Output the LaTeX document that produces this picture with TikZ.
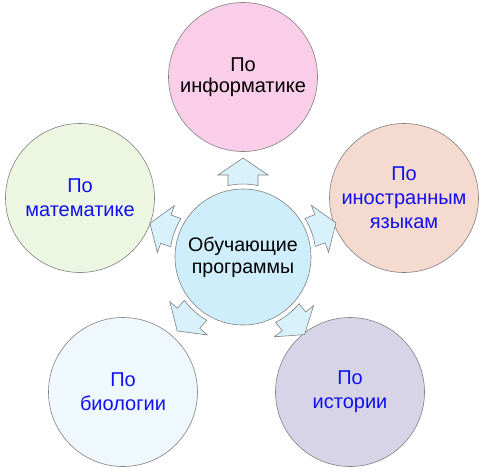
\documentclass[tikz,border=0pt]{standalone}
\usepackage{fontspec}
\setmainfont{Liberation Sans}
\usetikzlibrary{calc}

\definecolor{hubfill}{HTML}{CDEEFA}
\definecolor{pinkfill}{HTML}{FACDE8}
\definecolor{greenfill}{HTML}{EDF6E1}
\definecolor{peachfill}{HTML}{F5DACF}
\definecolor{icefill}{HTML}{EEF8FD}
\definecolor{lilacfill}{HTML}{D7D4E7}
\definecolor{arrowfill}{HTML}{D8F1FB}
\definecolor{labelblue}{HTML}{1010F0}

\begin{document}
\begin{tikzpicture}[x=1pt, y=-1pt,
        topic/.style={circle, draw=gray, line width=0.6pt, minimum size=149pt, inner sep=0pt,
            align=center, text=labelblue, font=\fontsize{20}{24}\selectfont},
        hub/.style={topic, minimum size=136pt, text=black, font=\fontsize{19.6}{22}\selectfont},
        pointer/.style={fill=arrowfill, draw=gray, line width=0.6pt, line join=miter}]
        
        \useasboundingbox (0, 0) rectangle (486, 474);
        
        % Circles
        \node[hub, fill=hubfill] (prog) at (243, 257) {Обучающие\\программы};
        \node[topic, fill=pinkfill, text=black, font=\fontsize{20}{21}\selectfont] (info) at (243, 77) {По\\информатике};
        \node[topic, fill=greenfill] (math) at (80, 198) {По\\математике};
        \node[topic, fill=peachfill] (lang) at (404, 198) {По\\иностранным\\языкам};
        \node[topic, fill=icefill] (bio) at (123, 392) {По\\биологии};
        \node[topic, fill=lilacfill] (hist) at (350, 392) {По\\истории};
        
        % Arrows
        \foreach \t in {info, math, lang, bio, hist} {
            \path[pointer] let \p1 = ($(\t.center) - (prog.center)$), \n1 = {atan2(\y1, \x1)} in
                [shift={(prog.center)}, rotate=\n1]
                (71.4, 15) -- (82, 15) -- (82, 25) -- (99, 0) -- (82, -25) -- (82, -15) -- (71.4, -15)
                arc[start angle=-11.9, end angle=11.9, radius=73] -- cycle;
        }
        
    \end{tikzpicture}
\end{document}
